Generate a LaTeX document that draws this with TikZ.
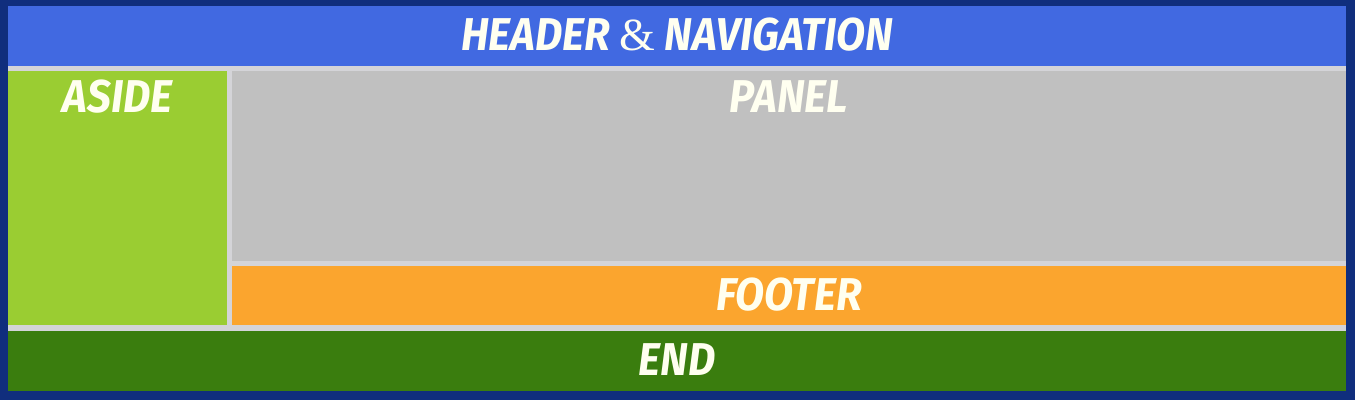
\documentclass[tikz,border=0pt]{standalone}
\usepackage{fontspec}
\newfontfamily\titlefont[FakeStretch=0.92]{Fira Sans}
\newfontfamily\ampfont{Liberation Serif}
\definecolor{borderblue}{HTML}{102E7D}
\definecolor{gapgray}{HTML}{D4D4D8}
\definecolor{headblue}{HTML}{4169E1}
\definecolor{asidegreen}{HTML}{9ACD32}
\definecolor{panelgray}{HTML}{C0C0C0}
\definecolor{footorange}{HTML}{FBA52E}
\definecolor{endgreen}{HTML}{3A7D0E}
\definecolor{txtivory}{HTML}{FFFFF0}
\tikzset{
  region/.style={draw=none, inner sep=0pt, outer sep=0pt, rectangle},
  lbl/.style={text=txtivory, font=\titlefont\bfseries\itshape\fontsize{46}{46}\selectfont, inner sep=0pt}
}
\begin{document}
\begin{tikzpicture}[x=1pt,y=-1pt]
\useasboundingbox (0,0) rectangle (1355,400);
\fill[borderblue] (0,0) rectangle (1355,400);
\fill[gapgray] (8,6) rectangle (1346,391);
\node[region, fill=headblue, minimum width=1338pt, minimum height=60pt, anchor=north west] (header) at (8,6) {};
\node[region, fill=asidegreen, minimum width=219pt, minimum height=254pt, anchor=north west] (aside) at (8,71) {};
\node[region, fill=panelgray, minimum width=1114pt, minimum height=190pt, anchor=north west] (panel) at (232,71) {};
\node[region, fill=footorange, minimum width=1114pt, minimum height=59pt, anchor=north west] (footer) at (232,266) {};
\node[region, fill=endgreen, minimum width=1338pt, minimum height=60pt, anchor=north west] (end) at (8,331) {};
\node[lbl] (headertext) at ([yshift=1pt]header.center) {HEADER {\ampfont\mdseries\upshape\&} NAVIGATION};
\node[lbl, anchor=north] (asidetext) at ([yshift=-9pt]aside.north) {ASIDE};
\node[lbl, anchor=north] (paneltext) at ([yshift=-9pt]panel.north) {PANEL};
\node[lbl] (footertext) at ([yshift=1pt]footer.center) {FOOTER};
\node[lbl] (endtext) at ([yshift=1pt]end.center) {END};
\end{tikzpicture}
\end{document}
